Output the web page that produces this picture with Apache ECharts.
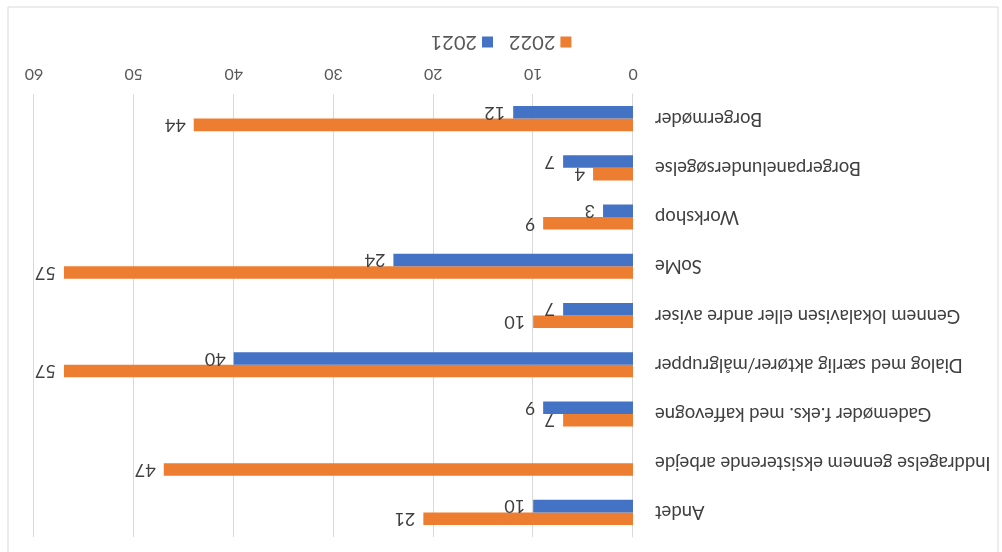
<!DOCTYPE html>
<html>
<head>
<meta charset="utf-8">
<script src="https://cdn.jsdelivr.net/npm/echarts@6/dist/echarts.min.js"></script>
<style>
body { margin: 0; background: #fff; }
/* the reference picture is upside down, so the whole chart is turned */
#main { width: 1002px; height: 552px; transform: rotate(180deg); }
</style>
</head>
<body>
<div id="main"></div>
<script>
const categories = [
  "Borgermøder",
  "Borgerpanelundersøgelse",
  "Workshop",
  "SoMe",
  "Gennem lokalavisen eller andre aviser",
  "Dialog med særlig aktører/målgrupper",
  "Gademøder f.eks. med kaffevogne",
  "Inddragelse gennem eksisterende arbejde",
  "Andet"
];
const values2021 = [12, 7, 3, 24, 7, 40, 9, null, 10];
const values2022 = [44, 4, 9, 57, 10, 57, 7, 47, 21];
const xTicks = { min: 0, max: 60, interval: 10 };

const myChart = echarts.init(document.getElementById("main"));

const labelStyle = {
  show: true,
  position: "right",
  distance: 8,
  color: "#404040",
  fontSize: 18,
  fontFamily: "Lato"
};

var option = {
  animation: false,
  textStyle: { fontFamily: "Lato" },
  graphic: [
    {
      type: "rect",
      shape: { x: 4, y: -4, width: 990, height: 549 },
      style: { fill: "none", stroke: "#d9d9d9", lineWidth: 1 },
      silent: true
    }
  ],
  legend: {
    data: ["2022", "2021"],
    left: "center",
    top: 495,
    icon: "rect",
    itemWidth: 11,
    itemHeight: 11,
    itemGap: 16,
    textStyle: { fontSize: 20, color: "#595959", fontFamily: "Lato" }
  },
  grid: { left: 369, right: 34, top: 15, height: 443 },
  xAxis: {
    type: "value",
    min: xTicks.min,
    max: xTicks.max,
    interval: xTicks.interval,
    axisLine: { show: false },
    axisTick: { show: false },
    axisLabel: { color: "#595959", fontSize: 16, margin: 12 },
    splitLine: { lineStyle: { color: "#d9d9d9" } }
  },
  yAxis: {
    type: "category",
    data: categories,
    axisLine: { lineStyle: { color: "#d9d9d9" } },
    axisTick: { show: false },
    axisLabel: { color: "#404040", fontSize: 18.5, margin: 22 }
  },
  series: [
    {
      name: "2022",
      type: "bar",
      data: values2022,
      itemStyle: { color: "#ED7D31" },
      barGap: "0%",
      barCategoryGap: "49%",
      label: labelStyle
    },
    {
      name: "2021",
      type: "bar",
      data: values2021,
      itemStyle: { color: "#4472C4" },
      barGap: "0%",
      barCategoryGap: "49%",
      label: labelStyle
    }
  ]
};
myChart.setOption(option);
</script>
</body>
</html>
